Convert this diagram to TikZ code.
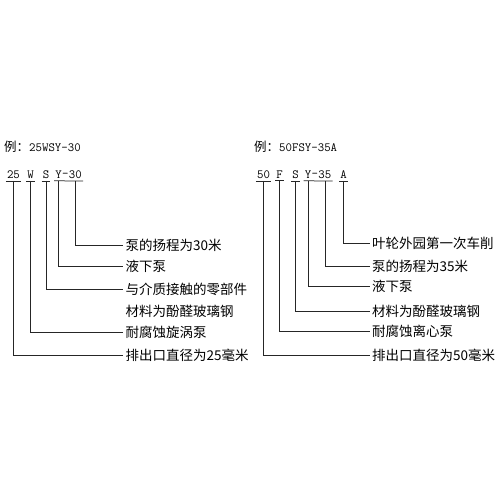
\documentclass[tikz,border=0pt]{standalone}
\usepackage{fontspec}
\newfontfamily\cjk{Noto Sans CJK SC}
\usetikzlibrary{positioning,calc}

\begin{document}
\begin{tikzpicture}[x=1pt, y=-1pt]
    % Define styles for the nodes
    \tikzset{code/.style={inner xsep=0pt, inner ysep=1.8pt, font=\fontsize{12.5}{14}\ttfamily},
        example/.style={anchor=west, inner sep=0pt, font=\fontsize{12.5}{14}\ttfamily},
        label node/.style={anchor=west, inner xsep=2.5pt, inner ysep=0pt, font=\fontsize{13.5}{15}\cjk},
        lead/.style={draw=black!85, line width=0.75pt}}
    \useasboundingbox[fill=white] (0,0) rectangle (500,500);

    % Left example
    \node[example] (exleft) at (4,147) {{\cjk 例：}25WSY-30};
    \node[code] (c25) at (13.5,175) {25};
    \node[code] (cW) at (30.5,175) {W};
    \node[code] (cS) at (46,175) {S};
    \node[code] (cY) at (58.5,175) {Y};
    \node[code, right=0pt of cY] (cdash) {-};
    \node[code, right=0pt of cdash] (c30) {30};

    \node[label node] (l30) at (123,245) {泵的扬程为30米};
    \node[label node] (lY) at (123,266.7) {液下泵};
    \node[label node] (lS) at (123,289) {与介质接触的零部件};
    \node[label node] (lS2) at (123,311) {材料为酚醛玻璃钢};
    \node[label node] (lW) at (123,332) {耐腐蚀旋涡泵};
    \node[label node] (l25) at (123,355) {排出口直径为25毫米};

    % Underlines
    \draw[lead] ($(c25.south west)+(-1,0)$) -- ($(c25.south east)+(1,0)$);
    \draw[lead] ($(cW.south west)+(-1,0)$) -- ($(cW.south east)+(1,0)$);
    \draw[lead] ($(cS.south west)+(-1,0)$) -- ($(cS.south east)+(1,0)$);
    \draw[lead] ($(cY.south west)+(-1,0)$) -- ($(c30.south east)+(1,0)$);

    % Leaders
    \draw[lead] (c30.south) |- (l30.west);
    \draw[lead] (cY.south) |- (lY.west);
    \draw[lead] (cS.south) |- (lS.west);
    \draw[lead] (cW.south) |- (lW.west);
    \draw[lead] (c25.south) |- (l25.west);

    % Right example
    \node[example] (exright) at (254,147) {{\cjk 例：}50FSY-35A};
    \node[code] (c50) at (263.5,175) {50};
    \node[code] (cF) at (279.5,175) {F};
    \node[code] (cS2) at (295.5,175) {S};
    \node[code] (cY2) at (308,175) {Y};
    \node[code, right=0pt of cY2] (cdash2) {-};
    \node[code, right=0pt of cdash2] (c35) {35};
    \node[code] (cA) at (343.5,175) {A};

    \node[label node] (lA) at (369.5,243) {叶轮外园第一次车削};
    \node[label node] (l35) at (369.5,266) {泵的扬程为35米};
    \node[label node] (lY2) at (369.5,286.5) {液下泵};
    \node[label node] (lS3) at (369.5,311) {材料为酚醛玻璃钢};
    \node[label node] (lF) at (369.5,331.7) {耐腐蚀离心泵};
    \node[label node] (l50) at (369.5,355) {排出口直径为50毫米};

    % Underlines
    \draw[lead] ($(c50.south west)+(-1,0)$) -- ($(c50.south east)+(1,0)$);
    \draw[lead] ($(cF.south west)+(-1,0)$) -- ($(cF.south east)+(1,0)$);
    \draw[lead] ($(cS2.south west)+(-1,0)$) -- ($(cS2.south east)+(1,0)$);
    \draw[lead] ($(cY2.south west)+(-1,0)$) -- ($(c35.south east)+(1,0)$);
    \draw[lead] ($(cA.south west)+(-1,0)$) -- ($(cA.south east)+(1,0)$);

    % Leaders
    \draw[lead] (cA.south) |- (lA.west);
    \draw[lead] (c35.south) |- (l35.west);
    \draw[lead] (cY2.south) |- (lY2.west);
    \draw[lead] (cS2.south) |- (lS3.west);
    \draw[lead] (cF.south) |- (lF.west);
    \draw[lead] (c50.south) |- (l50.west);
\end{tikzpicture}
\end{document}
